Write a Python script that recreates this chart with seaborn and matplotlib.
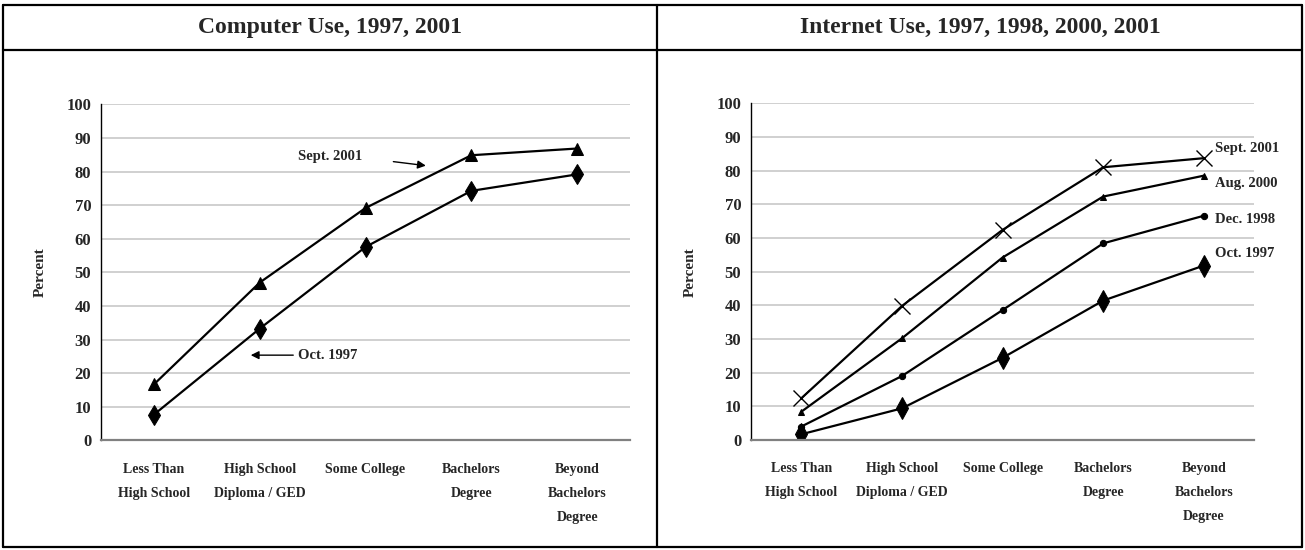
import matplotlib
matplotlib.use("Agg")
import matplotlib.pyplot as plt
import numpy as np
import seaborn as sns
from matplotlib.lines import Line2D

# categories on the x axis (same for both panels)
education = ["Less Than\nHigh School", "High School\nDiploma / GED", "Some College",
             "Bachelors\nDegree", "Beyond\nBachelors\nDegree"]

# computer use, percent
computer_sept_2001 = [16.7, 47.0, 69.2, 84.9, 86.9]
computer_oct_1997 = [7.7, 33.3, 57.6, 74.3, 79.2]

# internet use, percent
internet_sept_2001 = [12.4, 39.8, 62.4, 81.0, 83.7]
internet_aug_2000 = [8.4, 30.2, 54.2, 72.3, 78.5]
internet_dec_1998 = [4.0, 19.0, 38.6, 58.4, 66.6]
internet_oct_1997 = [1.7, 9.4, 24.4, 41.4, 51.8]

sns.set_style("white")
plt.rcParams['font.family'] = ['Liberation Serif', 'DejaVu Serif']
plt.rcParams['font.weight'] = 'bold'

fig = plt.figure(figsize=(13.05, 5.5), dpi=100)

# table frame around the two panels
frame = [((0.0023, 0.9977), (0.991, 0.991)), ((0.0023, 0.9977), (0.0055, 0.0055)),
         ((0.0023, 0.0023), (0.0055, 0.991)), ((0.9977, 0.9977), (0.0055, 0.991)),
         ((0.0023, 0.9977), (0.909, 0.909)), ((0.5034, 0.5034), (0.0055, 0.991))]
for xs, ys in frame:
    fig.add_artist(Line2D(xs, ys, color='black', lw=1.6, transform=fig.transFigure))

fig.text(0.253, 0.95, "Computer Use, 1997, 2001", ha='center', va='center', fontsize=17, weight='bold')
fig.text(0.751, 0.95, "Internet Use, 1997, 1998, 2000, 2001", ha='center', va='center', fontsize=17, weight='bold')


def style_axis(ax):
    ax.set_xlim(-0.5, 4.5)
    ax.set_ylim(0, 100)
    ax.set_yticks(np.arange(0, 101, 10))
    ax.set_xticks(range(len(education)))
    ax.set_xticklabels(education, fontsize=10, weight='bold', linespacing=2.1, va='top')
    ax.set_xticks(np.arange(-0.5, 5, 1), minor=True)
    ax.tick_params(axis='x', which='major', length=0, pad=16)
    ax.tick_params(axis='x', which='minor', length=5, width=1, color='#808080', direction='out')
    ax.tick_params(axis='y', length=4, width=1, color='black', direction='out', labelsize=12, pad=3)
    for lab in ax.get_yticklabels():
        lab.set_fontweight('bold')
    ax.yaxis.grid(True, color='#c8c8c8', lw=1.2)
    ax.xaxis.grid(False)
    ax.set_axisbelow(True)
    for s in ['top', 'right']:
        ax.spines[s].set_visible(False)
    ax.spines['left'].set_color('black')
    ax.spines['left'].set_linewidth(1)
    ax.spines['bottom'].set_color('#808080')
    ax.spines['bottom'].set_linewidth(1.6)
    ax.set_ylabel("Percent", fontsize=11, weight='bold', labelpad=14)
    ax.set_xlabel("")


line_kw = dict(color='black', lw=1.6, markeredgecolor='black', sort=False)

# left panel: computer use
ax1 = fig.add_axes([0.0774, 0.1991, 0.4054, 0.6109])
sns.lineplot(x=education, y=computer_sept_2001, ax=ax1, marker='^', markersize=8, **line_kw)
sns.lineplot(x=education, y=computer_oct_1997, ax=ax1, marker='d', markersize=10, **line_kw)
style_axis(ax1)
ax1.text(1.363, 84.5, "Sept. 2001", ha='left', va='center', fontsize=10.5, weight='bold')
ax1.annotate('', xy=(2.596, 81.7), xytext=(2.237, 83.1),
             arrowprops=dict(arrowstyle='-|>', color='black', lw=1, mutation_scale=12))
ax1.text(1.362, 25.4, "Oct. 1997", ha='left', va='center', fontsize=10.5, weight='bold')
ax1.annotate('', xy=(0.889, 25.4), xytext=(1.343, 25.4),
             arrowprops=dict(arrowstyle='-|>', color='black', lw=1, mutation_scale=12))

# right panel: internet use
ax2 = fig.add_axes([0.5755, 0.2, 0.3855, 0.6122])
sns.lineplot(x=education, y=internet_sept_2001, ax=ax2, marker='x', markersize=11,
             markeredgewidth=1, **line_kw)
sns.lineplot(x=education, y=internet_aug_2000, ax=ax2, marker='^', markersize=5, **line_kw)
sns.lineplot(x=education, y=internet_dec_1998, ax=ax2, marker='o', markersize=4.5, **line_kw)
sns.lineplot(x=education, y=internet_oct_1997, ax=ax2, marker='d', markersize=11, **line_kw)
style_axis(ax2)
for lbl, yv in [("Sept. 2001", 86.7), ("Aug. 2000", 76.3), ("Dec. 1998", 65.6), ("Oct. 1997", 55.5)]:
    ax2.text(4.112, yv, lbl, ha='left', va='center', fontsize=10.5, weight='bold', clip_on=False)

fig.savefig("out.png", dpi=100)
